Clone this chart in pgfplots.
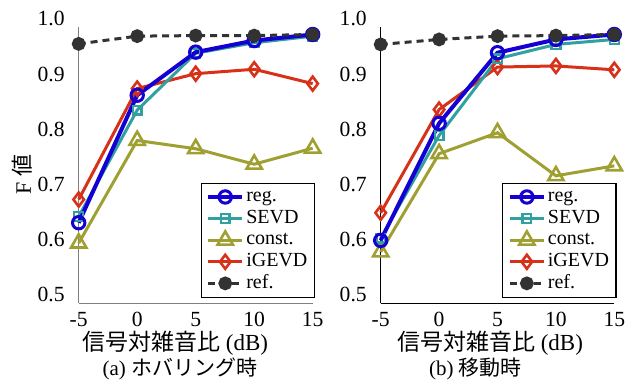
\documentclass[border=0pt]{standalone}
\usepackage{fontspec}
\setmainfont{Liberation Serif}
\newfontfamily\jp{Noto Sans CJK JP}
\usepackage{pgfplots}
\usepackage{pgfplotstable}
\pgfplotsset{compat=1.18}
\definecolor{cReg}{RGB}{20,0,210}
\definecolor{cSevd}{RGB}{50,160,160}
\definecolor{cConst}{RGB}{160,160,50}
\definecolor{cIg}{RGB}{215,50,25}
\definecolor{cRef}{RGB}{50,50,50}

\pgfplotstableread{
x    reg   sevd  const igevd ref
-5   0.646 0.657 0.609 0.688 0.970
0    0.877 0.850 0.795 0.889 0.984
5    0.955 0.953 0.780 0.916 0.985
10   0.976 0.972 0.752 0.924 0.985
15   0.987 0.984 0.781 0.898 0.987
}\dataA
\pgfplotstableread{
x    reg   sevd  const igevd ref
-5   0.614 0.618 0.593 0.664 0.969
0    0.826 0.804 0.771 0.851 0.978
5    0.954 0.943 0.809 0.928 0.984
10   0.978 0.969 0.731 0.930 0.985
15   0.987 0.978 0.749 0.923 0.987
}\dataB

\pgfplotsset{
  sReg/.style={color=cReg, line width=2pt, mark=o, mark size=3.1pt, mark options={solid, fill=white, line width=1.5pt}},
  sSevd/.style={color=cSevd, line width=1.5pt, mark=square, mark size=2.2pt, mark options={solid, fill=white, line width=1.2pt}},
  sConst/.style={color=cConst, line width=1.5pt, mark=triangle, mark size=4.4pt, mark options={solid, fill=white, line width=1.3pt}},
  sIg/.style={color=cIg, line width=1.5pt, mark=diamond, mark size=3.5pt, mark options={solid, fill=white, line width=1.3pt}},
  sRef/.style={color=cRef, line width=1.5pt, dash pattern=on 3.5pt off 2.5pt, mark=*, mark size=2.7pt, mark options={solid, fill=cRef}},
  myaxis/.style={
    scale only axis, height=138pt,
    xmin=-5, xmax=15, ymin=0.5, ymax=1.0,
    axis x line*=bottom, axis y line*=left,
    clip=false,
    xtick={-5,0,5,10,15}, xticklabels={-5,0,5,10,15},
    ytick={0.5,0.6,0.7,0.8,0.9,1.0}, yticklabels={0.5,0.6,0.7,0.8,0.9,1.0},
    major tick length=0pt,
    tick label style={font=\fontsize{10.8}{12}\selectfont},
    xticklabel style={anchor=north, inner sep=0pt, yshift=-4.2pt},
    yticklabel style={anchor=east, inner sep=0pt, xshift=-6.8pt, yshift=4.25pt},
    legend cell align=left,
    legend style={at={(1.01,0.02)}, anchor=south east, draw=black, line width=0.6pt, fill=white,
      font=\fontsize{10}{11}\selectfont, inner xsep=2.5pt, inner ysep=1.5pt, row sep=0pt,
      nodes={inner sep=1pt, text height=6.8pt, text depth=2pt}},
  }
}

\begin{document}
\begin{tikzpicture}
\begin{axis}[myaxis, width=117pt, at={(39.35pt,38.35pt)}, anchor=south west,
  axis line style={color=gray, line width=0.65pt},
  xlabel={{\jp 信号対雑音比} (dB)},
  xlabel style={at={(axis description cs:0.412,-0.1438)}, anchor=center, font=\fontsize{11.5}{13}\selectfont},
  ylabel={F {\jp 値}},
  ylabel style={at={(axis description cs:-0.240,0.468)}, anchor=center, font=\fontsize{11}{13}\selectfont},
]
\addlegendimage{sReg}\addlegendentry{reg.}
\addlegendimage{sSevd}\addlegendentry{SEVD}
\addlegendimage{sConst}\addlegendentry{const.}
\addlegendimage{sIg}\addlegendentry{iGEVD}
\addlegendimage{sRef}\addlegendentry{ref.}
\addplot[sConst, forget plot] table[x=x, y=const] {\dataA};
\addplot[sIg, forget plot] table[x=x, y=igevd] {\dataA};
\addplot[sSevd, forget plot] table[x=x, y=sevd] {\dataA};
\addplot[sReg, forget plot] table[x=x, y=reg] {\dataA};
\addplot[sRef, forget plot] table[x=x, y=ref] {\dataA};
\node[font=\fontsize{10.5}{12}\selectfont] at (axis description cs:0.432,-0.238) {(a) {\jp ホバリング時}};
\end{axis}
\begin{axis}[myaxis, width=116.8pt, at={(190.35pt,38.35pt)}, anchor=south west,
  axis line style={color=black, line width=0.6pt},
  xlabel={{\jp 信号対雑音比} (dB)},
  xlabel style={at={(axis description cs:0.468,-0.1438)}, anchor=center, font=\fontsize{11.5}{13}\selectfont},
]
\addlegendimage{sReg}\addlegendentry{reg.}
\addlegendimage{sSevd}\addlegendentry{SEVD}
\addlegendimage{sConst}\addlegendentry{const.}
\addlegendimage{sIg}\addlegendentry{iGEVD}
\addlegendimage{sRef}\addlegendentry{ref.}
\addplot[sConst, forget plot] table[x=x, y=const] {\dataB};
\addplot[sIg, forget plot] table[x=x, y=igevd] {\dataB};
\addplot[sSevd, forget plot] table[x=x, y=sevd] {\dataB};
\addplot[sReg, forget plot] table[x=x, y=reg] {\dataB};
\addplot[sRef, forget plot] table[x=x, y=ref] {\dataB};
\node[font=\fontsize{10.5}{12}\selectfont] at (axis description cs:0.406,-0.238) {(b) {\jp 移動時}};
\end{axis}
\pgfresetboundingbox
\path[use as bounding box] (0,0) rectangle (319pt,190pt);
\end{tikzpicture}
\end{document}
